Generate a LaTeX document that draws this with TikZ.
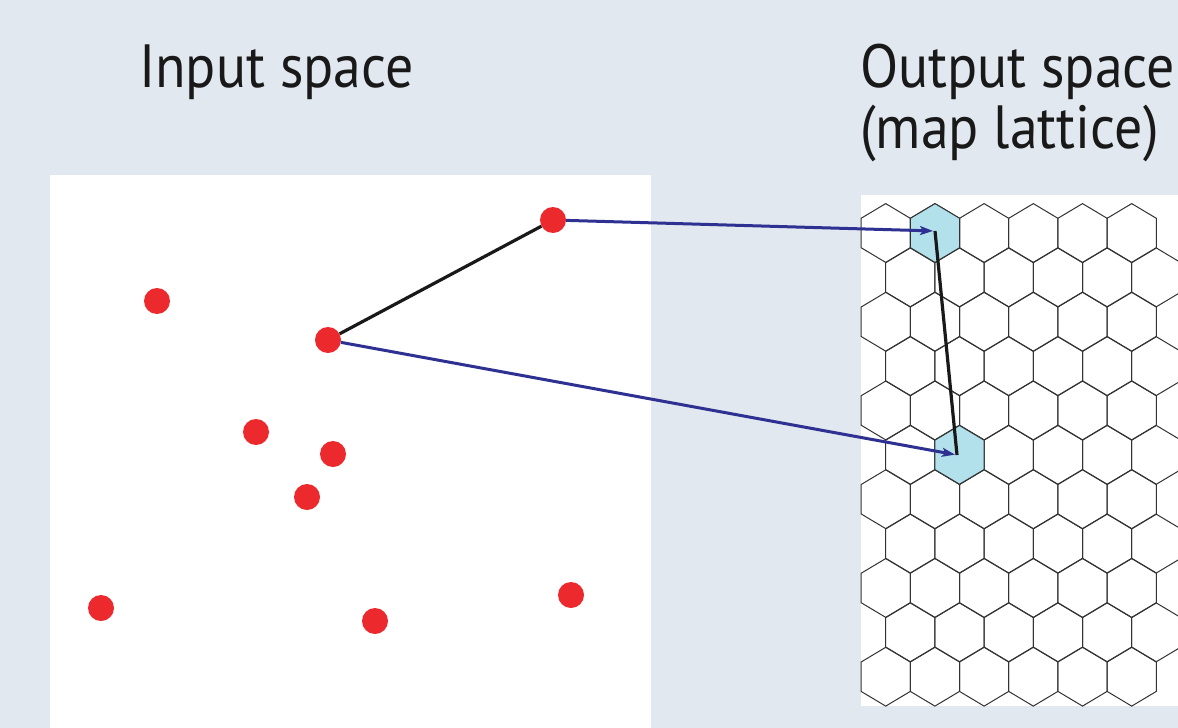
\documentclass[tikz,border=0pt]{standalone}
\usepackage{fontspec}
\setmainfont{PT Sans}[FakeStretch=0.915]
\usetikzlibrary{arrows.meta}
\definecolor{bgc}{HTML}{E1E8EF}
\definecolor{dotred}{HTML}{EC2A2E}
\definecolor{arrblue}{HTML}{2E3192}
\definecolor{hexfill}{HTML}{B3E1EB}
\tikzset{
  dot/.style={circle,fill=dotred,draw=none,minimum size=26pt,inner sep=0pt},
  maparrow/.style={draw=arrblue,line width=3pt,-{Stealth[length=13pt,width=9pt,inset=3pt]},shorten >=2pt},
  link/.style={draw=black!90,line width=3.2pt},
  hexline/.style={draw=black!80,line width=1pt},
  title/.style={anchor=base west,inner sep=0pt,font=\fontsize{61}{66}\selectfont,text=black!90}
}
\begin{document}
\begin{tikzpicture}[x=1pt,y=-1pt]
\useasboundingbox (0,0) rectangle (1178,728);
\fill[bgc] (0,0) rectangle (1178,728);
\begin{scope}
\clip (0,0) rectangle (1178,728);
% panels
\fill[white] (50,175) rectangle (651,728);
\fill[white] (861,195) rectangle (1190,706);
% hex lattice
\def\hw{24.6}
\def\hr{29.4}
\def\hh{14.7}
\foreach \r in {0,...,10}{
  \pgfmathsetmacro{\cy}{233+\r*44.37}
  \pgfmathsetmacro{\xo}{mod(\r,2)==0 ? 885.7 : 910.3}
  \foreach \k in {0,...,5}{
    \pgfmathsetmacro{\cx}{\xo+\k*49.2}
    \path[hexline] (\cx,\cy-\hr) -- (\cx+\hw,\cy-\hh) -- (\cx+\hw,\cy+\hh) -- (\cx,\cy+\hr) -- (\cx-\hw,\cy+\hh) -- (\cx-\hw,\cy-\hh) -- cycle;
  }
}
% highlighted hexes
\foreach \cx/\cy in {935/233, 959.5/454.85}{
  \path[hexline,fill=hexfill] (\cx,\cy-\hr) -- (\cx+\hw,\cy-\hh) -- (\cx+\hw,\cy+\hh) -- (\cx,\cy+\hr) -- (\cx-\hw,\cy+\hh) -- (\cx-\hw,\cy-\hh) -- cycle;
}
\end{scope}
% titles
\node[title] (tin) at (139,87) {Input space};
\node[title] (tout) at (860,87) {Output space};
\node[title] (tmap) at (860,148) {(map lattice)};
% data points
\node[dot] (d1) at (553,220) {};
\node[dot] (d2) at (157,301) {};
\node[dot] (d3) at (328,340) {};
\node[dot] (d4) at (256,432) {};
\node[dot] (d5) at (333,454) {};
\node[dot] (d6) at (307,497) {};
\node[dot] (d7) at (101,608) {};
\node[dot] (d8) at (375,621) {};
\node[dot] (d9) at (571,595) {};
% winning units
\coordinate (c1) at (935,231);
\coordinate (c2) at (957,455);
% connectors
\draw[link] (d3) -- (d1);
\draw[maparrow] (d1) -- (c1);
\draw[maparrow] (d3) -- (c2);
\draw[link] (c1) -- (c2);
\end{tikzpicture}
\end{document}
